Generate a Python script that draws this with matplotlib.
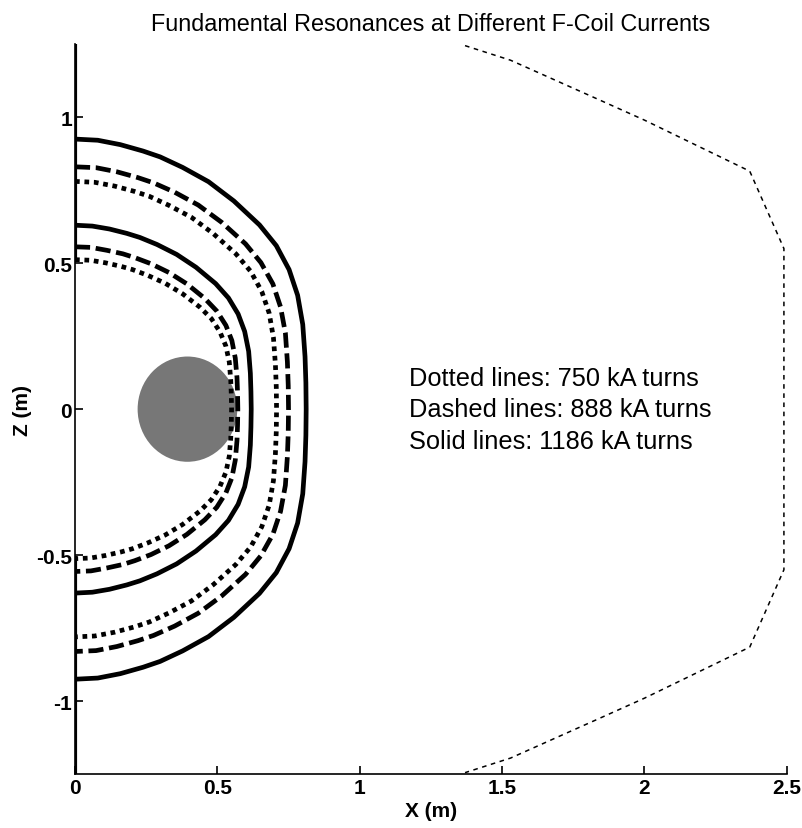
import matplotlib.pyplot as plt
from matplotlib.patches import Ellipse

plt.rcParams['font.family'] = ['Liberation Sans', 'DejaVu Sans']

# upper halves of the resonance contours (x, z), mirrored for the lower half
outer_solid_x = [0, 0.080, 0.159, 0.239, 0.299, 0.378, 0.469, 0.558, 0.648,
                 0.707, 0.752, 0.782, 0.800, 0.808, 0.811, 0.812]
outer_solid_z = [0.925, 0.921, 0.906, 0.884, 0.864, 0.828, 0.779, 0.713,
                 0.631, 0.560, 0.478, 0.390, 0.290, 0.180, 0.090, 0]
outer_dashed_x = [0, 0.074, 0.147, 0.221, 0.276, 0.350, 0.433, 0.515, 0.599,
                  0.653, 0.695, 0.722, 0.739, 0.746, 0.749, 0.750]
outer_dashed_z = [0.830, 0.827, 0.813, 0.793, 0.775, 0.743, 0.699, 0.640,
                  0.566, 0.502, 0.429, 0.350, 0.261, 0.162, 0.081, 0]
outer_dotted_x = [0, 0.069, 0.139, 0.208, 0.261, 0.330, 0.409, 0.486, 0.565,
                  0.617, 0.656, 0.682, 0.697, 0.704, 0.707, 0.708]
outer_dotted_z = [0.780, 0.777, 0.764, 0.746, 0.729, 0.698, 0.657, 0.601,
                  0.532, 0.472, 0.403, 0.329, 0.245, 0.152, 0.076, 0]
inner_solid_x = [0, 0.061, 0.121, 0.182, 0.228, 0.288, 0.357, 0.425, 0.494,
                 0.539, 0.573, 0.596, 0.610, 0.616, 0.618, 0.619]
inner_solid_z = [0.630, 0.627, 0.617, 0.602, 0.588, 0.564, 0.530, 0.486,
                 0.430, 0.381, 0.326, 0.266, 0.198, 0.123, 0.061, 0]
inner_dashed_x = [0, 0.056, 0.112, 0.168, 0.210, 0.267, 0.330, 0.393, 0.456,
                  0.498, 0.530, 0.551, 0.563, 0.569, 0.571, 0.572]
inner_dashed_z = [0.556, 0.554, 0.544, 0.532, 0.519, 0.498, 0.468, 0.429,
                  0.379, 0.336, 0.287, 0.235, 0.175, 0.108, 0.054, 0]
inner_dotted_x = [0, 0.054, 0.108, 0.162, 0.202, 0.256, 0.317, 0.378, 0.439,
                  0.479, 0.509, 0.530, 0.542, 0.547, 0.549, 0.550]
inner_dotted_z = [0.512, 0.510, 0.501, 0.489, 0.478, 0.458, 0.431, 0.395,
                  0.349, 0.310, 0.265, 0.216, 0.161, 0.100, 0.050, 0]

# vacuum vessel outline
vessel_x = [1.37, 1.53, 1.84, 2.0, 2.37, 2.49, 2.49, 2.37, 2.0, 1.84, 1.53, 1.37]
vessel_z = [1.245, 1.195, 1.06, 0.99, 0.815, 0.55, -0.55, -0.815, -0.99,
            -1.06, -1.195, -1.245]

# plasma blob
blob_x, blob_z, blob_r = 0.395, 0.0, 0.175

labels = ["Dotted lines: 750 kA turns",
          "Dashed lines: 888 kA turns",
          "Solid lines: 1186 kA turns"]

fig = plt.figure(figsize=(8.02, 8.29), dpi=100)
ax = fig.add_axes([0.0935, 0.065, 0.8875, 0.8805])

ax.add_patch(Ellipse((blob_x, blob_z), 2 * blob_r, 2 * blob_r * 1.03,
                     facecolor='#777777', edgecolor='none', zorder=1))

styles = {'solid': '-', 'dashed': (0, (3.2, 1.2)), 'dotted': (0, (1, 1))}
curves = [(outer_solid_x, outer_solid_z, 'solid'),
          (outer_dashed_x, outer_dashed_z, 'dashed'),
          (outer_dotted_x, outer_dotted_z, 'dotted'),
          (inner_solid_x, inner_solid_z, 'solid'),
          (inner_dashed_x, inner_dashed_z, 'dashed'),
          (inner_dotted_x, inner_dotted_z, 'dotted')]
for xs, zs, kind in curves:
    full_x = xs + xs[::-1][1:]
    full_z = zs + [-z for z in zs[::-1][1:]]
    ax.plot(full_x, full_z, color='black', lw=3.4, linestyle=styles[kind],
            zorder=3)

# thick wall at x=0
ax.plot([0, 0], [0.51, 1.25], color='black', lw=3, zorder=4)
ax.plot([0, 0], [-1.25, -0.51], color='black', lw=3, zorder=4)

ax.plot(vessel_x, vessel_z, color='black', lw=1.1, linestyle=(0, (3, 3)),
        zorder=2)

for i, txt in enumerate(labels):
    ax.text(1.174, 0.108 - 0.108 * i, txt, fontsize=18.3, va='center',
            ha='left')

ax.set_xlim(0, 2.5)
ax.set_ylim(-1.25, 1.25)
ax.set_xticks([0, 0.5, 1, 1.5, 2, 2.5])
ax.set_xticklabels(['0', '0.5', '1', '1.5', '2', '2.5'])
ax.set_yticks([-1, -0.5, 0, 0.5, 1])
ax.set_yticklabels(['-1', '-0.5', '0', '0.5', '1'])
ax.spines['top'].set_visible(False)
ax.spines['right'].set_visible(False)
ax.spines['left'].set_linewidth(1.2)
ax.spines['bottom'].set_linewidth(1.2)
ax.tick_params(direction='in', length=6, width=1.2, labelsize=15)
ax.tick_params(axis='x', pad=3)
ax.tick_params(axis='y', pad=2)
for lab in ax.get_xticklabels() + ax.get_yticklabels():
    lab.set_fontweight('bold')

ax.set_xlabel('X (m)', fontsize=15, fontweight='bold', labelpad=3)
ax.set_ylabel('Z (m)', fontsize=15, fontweight='bold', labelpad=3)
ax.set_title('Fundamental Resonances at Different F-Coil Currents',
             fontsize=16.8, pad=10)

fig.savefig('out.png', dpi=100)
